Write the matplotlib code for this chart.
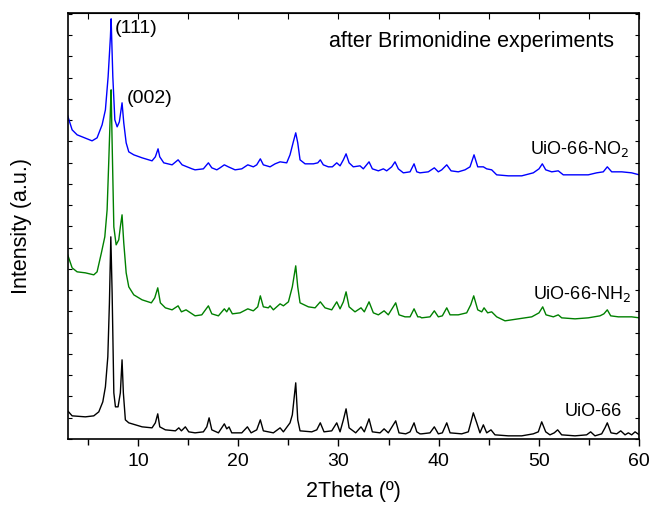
import matplotlib
matplotlib.use("Agg")
import matplotlib.pyplot as plt
from matplotlib.ticker import MultipleLocator, NullFormatter

# XRD patterns after Brimonidine experiments (stacked, intensity in a.u.)
x_no2 = [3.0, 3.44, 3.94, 4.44, 5.43, 5.93, 6.43, 6.76, 7.03, 7.26, 7.33, 7.50, 7.70, 7.93, 8.15,
         8.42, 8.59, 8.83, 9.09, 9.59, 10.42, 11.41, 11.74, 12.01, 12.18, 12.58, 13.41, 14.01, 14.41,
         15.40, 15.70, 16.53, 17.03, 17.37, 17.87, 18.19, 18.62, 19.02, 19.69, 20.36, 20.96, 21.51,
         21.85, 22.21, 22.51, 23.18, 23.68, 24.18, 24.84, 25.17, 25.50, 25.74, 25.94, 26.17, 26.67,
         27.50, 27.94, 28.19, 28.49, 28.99, 29.39, 29.83, 30.16, 30.49, 30.76, 31.06, 31.48, 32.15,
         32.48, 33.05, 33.38, 33.98, 34.48, 34.81, 35.31, 35.64, 35.97, 36.47, 37.14, 37.54, 37.81,
         38.13, 38.96, 39.56, 39.96, 40.30, 40.80, 41.23, 41.95, 42.62, 43.12, 43.52, 43.89, 44.45,
         44.78, 45.28, 45.78, 46.94, 48.28, 49.43, 50.00, 50.33, 50.67, 51.27, 51.92, 52.42, 53.59,
         54.91, 55.75, 56.41, 56.81, 57.25, 58.25, 59.24, 60.0]
y_no2 = [323, 309, 304, 302, 298, 301, 314, 329, 362, 402, 420, 362, 319, 312, 317,
         336, 316, 296, 287, 284, 281, 278, 282, 290, 282, 276, 274, 279, 274,
         270, 269, 270, 276, 271, 269, 271, 274, 272, 269, 270, 274, 272,
         274, 280, 274, 272, 275, 277, 276, 284, 297, 306, 296, 279, 275,
         275, 276, 279, 274, 272, 272, 276, 273, 279, 285, 276, 272, 273,
         270, 277, 270, 268, 270, 268, 272, 277, 270, 266, 267, 275, 267,
         266, 267, 271, 267, 269, 274, 268, 267, 269, 272, 284, 272, 272,
         270, 269, 264, 263, 263, 266, 270, 275, 269, 267, 268, 264, 264,
         264, 266, 267, 272, 267, 267, 266, 264]

x_nh2 = [3.0, 3.44, 3.94, 4.76, 5.60, 5.93, 6.36, 6.70, 6.93, 7.10, 7.26, 7.33, 7.43, 7.60, 7.83,
         8.09, 8.25, 8.42, 8.59, 8.83, 9.09, 9.59, 10.42, 11.34, 11.68, 11.98, 12.24, 12.74, 13.41,
         14.01, 14.34, 14.80, 15.40, 15.70, 16.37, 17.03, 17.37, 18.03, 18.62, 18.86, 19.09, 19.42,
         20.19, 20.96, 21.51, 21.95, 22.21, 22.51, 23.01, 23.18, 23.51, 24.18, 24.51, 25.01, 25.40,
         25.74, 25.94, 26.17, 27.00, 27.67, 28.19, 28.66, 29.33, 29.83, 30.16, 30.49, 30.76, 31.06,
         31.65, 32.25, 32.58, 33.05, 33.48, 33.98, 34.55, 34.97, 35.71, 36.04, 36.64, 37.14, 37.54,
         37.91, 38.13, 38.30, 39.13, 39.56, 39.96, 40.36, 40.80, 41.13, 41.95, 42.79, 43.19, 43.49,
         43.89, 44.29, 44.52, 44.88, 45.28, 45.78, 46.61, 47.94, 49.28, 50.00, 50.37, 50.70, 51.43,
         51.92, 52.26, 53.59, 54.91, 56.08, 56.47, 56.81, 57.15, 57.91, 58.58, 59.24, 60.0]
y_nh2 = [184, 171, 167, 166, 164, 167, 186, 202, 229, 279, 329, 349, 296, 212, 194,
         199, 212, 224, 196, 166, 152, 144, 139, 136, 141, 151, 136, 131, 129,
         133, 127, 129, 125, 123, 124, 133, 125, 123, 130, 127, 131, 125,
         126, 130, 128, 132, 143, 132, 131, 133, 129, 135, 133, 137, 152,
         173, 152, 136, 132, 131, 137, 131, 129, 137, 130, 137, 147, 132,
         127, 131, 127, 137, 126, 124, 128, 124, 136, 124, 122, 122, 130,
         122, 122, 121, 122, 128, 122, 123, 131, 124, 124, 126, 134, 143,
         129, 127, 131, 126, 127, 122, 118, 120, 122, 126, 132, 124, 122,
         124, 121, 120, 121, 123, 125, 129, 123, 122, 122, 122, 121]

x_uio = [3.0, 3.44, 4.76, 5.60, 6.10, 6.50, 6.76, 7.00, 7.16, 7.30, 7.43, 7.60, 7.76, 8.02, 8.25,
         8.42, 8.55, 8.75, 9.09, 10.42, 11.41, 11.74, 11.98, 12.18, 12.74, 13.74, 14.08, 14.34,
         14.73, 15.07, 15.70, 16.53, 16.87, 17.10, 17.37, 18.03, 18.62, 18.86, 19.09, 19.36, 20.36,
         20.92, 21.29, 21.85, 22.21, 22.51, 23.51, 24.18, 24.51, 25.17, 25.40, 25.74, 25.94, 26.17,
         27.34, 27.84, 28.19, 28.56, 29.33, 29.83, 30.16, 30.49, 30.76, 31.06, 31.72, 32.25, 32.58,
         33.05, 33.38, 34.15, 34.55, 34.97, 35.71, 36.04, 36.71, 37.14, 37.54, 37.81, 38.13, 38.30,
         39.13, 39.56, 39.96, 40.36, 40.80, 41.13, 42.29, 42.95, 43.22, 43.45, 43.79, 44.11, 44.45,
         44.78, 45.21, 45.61, 46.94, 48.28, 49.43, 49.93, 50.27, 50.67, 51.09, 51.52, 51.86, 52.26,
         53.59, 54.75, 55.15, 55.58, 56.25, 56.58, 56.81, 57.18, 57.75, 58.15, 58.58, 58.91, 59.24,
         59.58, 60.0]
y_uio = [28, 23, 22, 23, 27, 37, 52, 82, 136, 202, 146, 46, 32, 32, 46,
         79, 46, 19, 16, 12, 11, 16, 25, 12, 9, 8, 11, 8,
         12, 7, 6, 7, 12, 21, 9, 6, 15, 10, 12, 6, 6,
         12, 6, 9, 19, 8, 6, 11, 7, 16, 24, 56, 19, 8,
         7, 9, 16, 7, 8, 16, 7, 19, 30, 11, 6, 12, 7,
         20, 7, 6, 10, 6, 18, 6, 5, 7, 16, 7, 5, 5,
         6, 12, 5, 6, 16, 6, 5, 7, 17, 26, 16, 6, 14,
         6, 9, 4, 3, 3, 5, 7, 17, 7, 4, 6, 9, 4,
         3, 4, 7, 3, 5, 11, 16, 6, 5, 8, 4, 6, 4,
         7, 4]

plt.rcParams["font.family"] = ["Liberation Sans", "DejaVu Sans"]

fig = plt.figure(figsize=(6.51, 5.05), dpi=100)
ax = fig.add_axes([0.104, 0.131, 0.878, 0.843])

ax.plot(x_uio, y_uio, color="black", lw=1.0)
ax.plot(x_nh2, y_nh2, color="#008000", lw=1.0)
ax.plot(x_no2, y_no2, color="#0000ff", lw=1.0)

ax.set_xlim(3, 60)
ax.set_ylim(0, 425.7)

ax.text(7.73, 410.5, "(111)", fontsize=14, va="center")
ax.text(8.85, 340, "(002)", fontsize=14, va="center")
ax.text(0.956, 0.933, "after Brimonidine experiments", transform=ax.transAxes,
        fontsize=15.5, ha="right", va="center")
ax.text(58.95, 290, "UiO-66-NO$_2$", fontsize=13, ha="right", va="center")
ax.text(59.15, 145, "UiO-66-NH$_2$", fontsize=13, ha="right", va="center")
ax.text(58.3, 27.5, "UiO-66", fontsize=13, ha="right", va="center")

ax.set_xlabel("2Theta (º)", fontsize=15.5, labelpad=8)
ax.set_ylabel("Intensity (a.u.)", fontsize=15.5, labelpad=22)

ax.xaxis.set_major_locator(MultipleLocator(10))
ax.xaxis.set_minor_locator(MultipleLocator(5))
ax.yaxis.set_major_locator(MultipleLocator(42.5))
ax.yaxis.set_minor_locator(MultipleLocator(21.25))
ax.yaxis.set_major_formatter(NullFormatter())
ax.tick_params(axis="x", which="both", direction="out", top=False, labelsize=14, pad=5)
ax.tick_params(axis="x", which="major", length=5, width=1)
ax.tick_params(axis="x", which="minor", length=4, width=1)
ax.tick_params(axis="y", which="both", direction="in", left=True, right=True, length=3, width=0.8)

sec = ax.secondary_xaxis("top")
sec.xaxis.set_major_locator(MultipleLocator(5))
sec.tick_params(direction="in", length=4, labeltop=False)

for s in ax.spines.values():
    s.set_linewidth(1.2)

fig.savefig("out.png", dpi=100)
